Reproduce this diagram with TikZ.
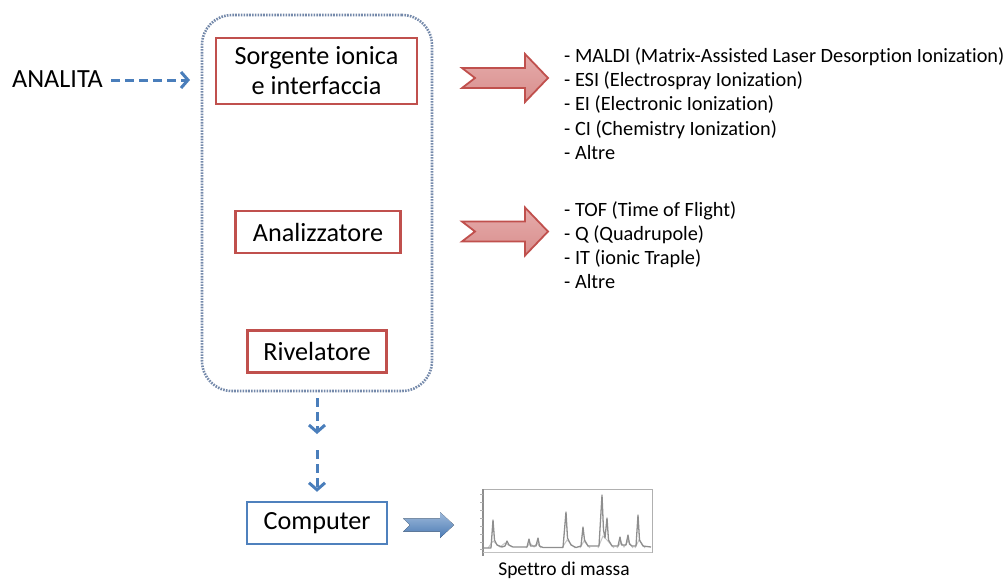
\documentclass[tikz,border=0pt]{standalone}
\usepackage{fontspec}
\setmainfont{Carlito}[Ligatures=NoCommon]
\usetikzlibrary{arrows.meta}
\definecolor{boxred}{HTML}{C0504D}
\definecolor{arrowpink}{HTML}{D88F8E}
\definecolor{arrowpinklight}{HTML}{E6ABAA}
\definecolor{flowblue}{HTML}{4A7EBB}
\definecolor{boxblue}{HTML}{4F81BD}
\definecolor{dotframe}{HTML}{7489AA}
\definecolor{plotgray}{HTML}{8E8E8E}
\tikzset{
  bigtext/.style={font=\fontsize{26.2}{30}\selectfont},
  listtext/.style={font=\fontsize{20.3}{24}\selectfont, inner sep=0pt, anchor=base west},
  redbox/.style={draw=boxred, line width=2.4pt, bigtext, align=center, inner sep=0pt},
  bluebox/.style={draw=boxblue, line width=2.4pt, bigtext, align=center, inner sep=0pt},
  dotbox/.style={draw=dotframe, line width=2.6pt, dash pattern=on 1.6pt off 1.2pt, rounded corners=30pt, inner sep=0pt},
  flowarrow/.style={draw=flowblue, line width=3pt, dash pattern=on 9pt off 5pt,
    -{Straight Barb[length=7pt,width=16pt,line width=3pt]}},
  redarrow/.style={draw=boxred, line width=1.8pt, top color=arrowpinklight, bottom color=arrowpink, line join=miter},
  bluearrow/.style={draw=none, top color=boxblue!55, bottom color=boxblue!95!black},
}
\begin{document}
\begin{tikzpicture}[x=1pt, y=-1pt]
\useasboundingbox (0,0) rectangle (1007,581);

% instrument block
\node[dotbox, minimum width=230, minimum height=376] (unit) at (317,203) {};
\node[redbox, minimum width=201, minimum height=66] (src) at (316.5,71) {Sorgente ionica\\e interfaccia};
\node[redbox, minimum width=165, minimum height=42] (ana) at (318,232) {Analizzatore};
\node[redbox, minimum width=139, minimum height=42] (riv) at (317,351.5) {Rivelatore};

% sample inlet
\node[bigtext, inner sep=0pt] (analita) at (57.5,79) {ANALITA};
\coordinate (inlet) at (190,80);
\draw[flowarrow, shorten <=8pt] (analita.east |- inlet) -- (inlet);

% signal to the computer
\node[bluebox, minimum width=140, minimum height=42] (comp) at (317,523) {Computer};
\coordinate (mid1) at (317,434);
\coordinate (mid2) at (317,450);
\draw[flowarrow, shorten <=6pt] (unit.south) -- (mid1);
\draw[flowarrow, shorten >=9pt] (mid2) -- (comp.north);

% block arrows towards the lists
\draw[redarrow, shift={(462,78)}] (0,-10) -- (63,-10) -- (63,-24) -- (86,0) -- (63,24) -- (63,10) -- (0,10) -- (13,0) -- cycle;
\draw[redarrow, shift={(462,231.5)}] (0,-10) -- (63,-10) -- (63,-24) -- (86,0) -- (63,24) -- (63,10) -- (0,10) -- (13,0) -- cycle;
\fill[bluearrow, shift={(403,525)}] (0,-6.7) -- (37,-6.7) -- (37,-13) -- (51,0) -- (37,13) -- (37,6.7) -- (0,6.7) -- (7,0) -- cycle;

% ion sources
\node[listtext] (s1) at (564,62) {- MALDI (Matrix-Assisted Laser Desorption Ionization)};
\node[listtext] (s2) at (564,86.4) {- ESI (Electrospray Ionization)};
\node[listtext] (s3) at (564,110.8) {- EI (Electronic Ionization)};
\node[listtext] (s4) at (564,135.2) {- CI (Chemistry Ionization)};
\node[listtext] (s5) at (564,159.6) {- Altre};

% analysers
\node[listtext] (a1) at (564,216.5) {- TOF (Time of Flight)};
\node[listtext] (a2) at (564,240.5) {- Q (Quadrupole)};
\node[listtext] (a3) at (564,264.5) {- IT (ionic Traple)};
\node[listtext] (a4) at (564,288.5) {- Altre};

% mass spectrum thumbnail
\draw[plotgray!70, line width=1pt] (483,489) -- (652,489) -- (652,553);
\draw[plotgray, line width=1.2pt] (483,489) -- (483,556);
\foreach \t in {494,502,510,518,526,534,542,549}
  \draw[plotgray!70, line width=0.8pt] (480,\t) -- (483,\t);
\draw[plotgray!55, line width=0.8pt] (483,552) -- (652,552);
\draw[plotgray!50, line width=1pt]
  (488,548) -- (493,541) -- (500,547) -- (505,543) -- (512,547)
  (526,548) -- (530,543) -- (534,547) -- (537,543) -- (541,548)
  (562,548) -- (567,540) -- (575,548)
  (580,548) -- (584,541) -- (590,548)
  (598,548) -- (603,536) -- (607,540) -- (614,548)
  (617,548) -- (621,542) -- (624,547) -- (628,541) -- (633,548)
  (635,548) -- (639,540) -- (645,548);
\draw[plotgray, line width=1.3pt, line join=round]
  (484,548) -- (491,548) -- (493,520) -- (494.5,540) -- (497,545) -- (502,547) -- (505,546)
  -- (507,541) -- (509,545) -- (513,547) -- (527,547) -- (529,539) -- (530.5,546) -- (536,546)
  -- (538,538) -- (539.5,546) -- (543,547.5) -- (563,547.5) -- (566,512) -- (567.5,538)
  -- (571,545) -- (576,547.5) -- (581,546) -- (583,527) -- (584.5,540) -- (588,546)
  -- (599,546) -- (602,495) -- (603.5,530) -- (605,538) -- (607,518) -- (608.5,540)
  -- (612,546) -- (618,546) -- (620,537) -- (621.5,545) -- (626,545) -- (628,535)
  -- (629.5,544) -- (632,546) -- (636,546) -- (638,515) -- (639.5,540) -- (643,546) -- (651,547);
\node[font=\fontsize{19.5}{24}\selectfont, inner sep=0pt, anchor=base] (spec) at (564,575.5) {Spettro di massa};
\end{tikzpicture}
\end{document}
